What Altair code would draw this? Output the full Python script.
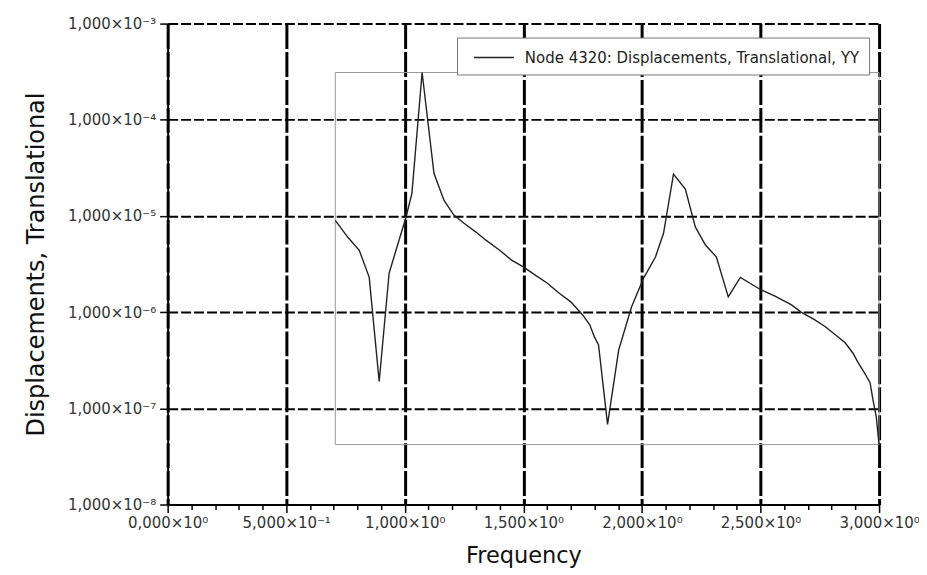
import altair as alt
import pandas as pd

# Frequency values (x) and YY translational displacement (y)
freq = [0.707, 0.76, 0.808, 0.85, 0.892, 0.934, 1.005, 1.03, 1.073, 1.123,
        1.165, 1.207, 1.25, 1.3, 1.342, 1.4, 1.45, 1.5, 1.55, 1.6,
        1.65, 1.7, 1.75, 1.78, 1.8, 1.817, 1.855, 1.902, 1.956, 2.007,
        2.057, 2.091, 2.133, 2.183, 2.225, 2.268, 2.314, 2.364, 2.415, 2.503,
        2.561, 2.631, 2.671, 2.729, 2.772, 2.813, 2.857, 2.89, 2.911, 2.939,
        2.962, 2.974, 2.988, 3.0]
disp = [9.0e-6, 6.0e-6, 4.4e-6, 2.3e-6, 1.9e-7, 2.55e-6, 9.7e-6, 1.72e-5, 3.1e-4, 2.78e-5,
        1.46e-5, 1.02e-5, 8.4e-6, 6.8e-6, 5.6e-6, 4.4e-6, 3.48e-6, 2.95e-6, 2.43e-6, 2.01e-6,
        1.58e-6, 1.28e-6, 9.35e-7, 7.4e-7, 5.5e-7, 4.57e-7, 6.8e-8, 4.05e-7, 1.13e-6, 2.26e-6,
        3.74e-6, 6.6e-6, 2.72e-5, 1.9e-5, 7.7e-6, 4.98e-6, 3.74e-6, 1.44e-6, 2.3e-6, 1.7e-6,
        1.47e-6, 1.19e-6, 1.0e-6, 8.3e-7, 7.1e-7, 5.9e-7, 4.8e-7, 3.74e-7, 3.0e-7, 2.32e-7,
        1.85e-7, 1.23e-7, 8.2e-8, 4.2e-8]
series_name = "Node 4320: Displacements, Translational, YY"

x_tick_labels = ["0,000×10⁰", "5,000×10⁻¹", "1,000×10⁰", "1,500×10⁰",
                 "2,000×10⁰", "2,500×10⁰", "3,000×10⁰"]
y_tick_labels = ["1,000×10⁻⁸", "1,000×10⁻⁷", "1,000×10⁻⁶", "1,000×10⁻⁵",
                 "1,000×10⁻⁴", "1,000×10⁻³"]
x_ticks = [round(i * 0.1, 1) for i in range(31)]
y_ticks = [1e-8, 1e-7, 1e-6, 1e-5, 1e-4, 1e-3]

df = pd.DataFrame({"f": freq, "d": disp, "s": series_name})
box = pd.DataFrame({"x1": [min(freq)], "x2": [max(freq)],
                    "y1": [min(disp)], "y2": [max(disp)]})

def js_list(items):
    return "[" + ",".join("'" + s + "'" for s in items) + "]"

major_x = "abs(datum.value*2-round(datum.value*2))<0.001"
x_label_expr = f"{major_x} ? {js_list(x_tick_labels)}[round(datum.value*2)] : ''"
y_label_expr = f"{js_list(y_tick_labels)}[round(log(datum.value)/LN10)+8]"

xscale = alt.Scale(domain=[0, 3], nice=False, zero=False)
yscale = alt.Scale(type="log", domain=[1e-8, 1e-3], nice=False)

x_axis = alt.Axis(
    values=x_ticks, labelExpr=x_label_expr, title="Frequency",
    grid=True, gridColor="black", gridDash=[25, 3], gridWidth=3,
    gridOpacity={"condition": {"test": major_x, "value": 1}, "value": 0},
    tickSize={"condition": {"test": major_x, "value": 8}, "value": 5},
    tickColor="black", tickWidth=1.5, domainColor="black", domainWidth=2,
    labelFont="DejaVu Sans", labelFontSize=15, labelColor="#333", labelPadding=3,
    labelFlush=False, labelOverlap=False,
    titleFont="DejaVu Sans", titleFontSize=22.5, titleFontWeight="normal",
    titleColor="#111", titlePadding=14,
)
y_axis = alt.Axis(
    values=y_ticks, labelExpr=y_label_expr, title="Displacements, Translational",
    grid=True, gridColor="black", gridDash=[10, 3], gridWidth=2,
    tickSize=8, tickColor="black", tickWidth=1.5, domainColor="black", domainWidth=2,
    labelFont="DejaVu Sans", labelFontSize=15, labelColor="#333", labelPadding=4,
    labelFlush=False, labelOverlap=False,
    titleFont="DejaVu Sans", titleFontSize=24, titleFontWeight="normal",
    titleColor="#111", titlePadding=19,
)

rect = alt.Chart(box).mark_rect(filled=False, stroke="#999", strokeWidth=1).encode(
    x=alt.X("x1:Q", scale=xscale, axis=x_axis),
    x2="x2:Q",
    y=alt.Y("y1:Q", scale=yscale, axis=y_axis),
    y2="y2:Q",
)

line = alt.Chart(df).mark_line(strokeWidth=1.4).encode(
    x=alt.X("f:Q", scale=xscale, axis=x_axis),
    y=alt.Y("d:Q", scale=yscale, axis=y_axis),
    color=alt.Color("s:N", scale=alt.Scale(range=["#222222"]),
                    legend=alt.Legend(title=None, orient="none", legendX=290, legendY=14,
                                      symbolType="M-2,0H2", symbolSize=400,
                                      symbolOffset=17,
                                      symbolStrokeWidth=1.3, labelFontSize=15,
                                      labelFont="DejaVu Sans", labelColor="#222",
                                      labelOffset=20, labelLimit=600,
                                      fillColor="white", strokeColor="#777",
                                      padding=9)),
)

chart = alt.layer(rect, line).properties(
    width=713, height=482,
    autosize=alt.AutoSizeParams(type="none"),
    padding={"left": 160, "top": 15, "right": 40, "bottom": 68},
).configure_view(stroke=None)

chart.save("out.html", embed_options={"renderer": "svg", "actions": False})
